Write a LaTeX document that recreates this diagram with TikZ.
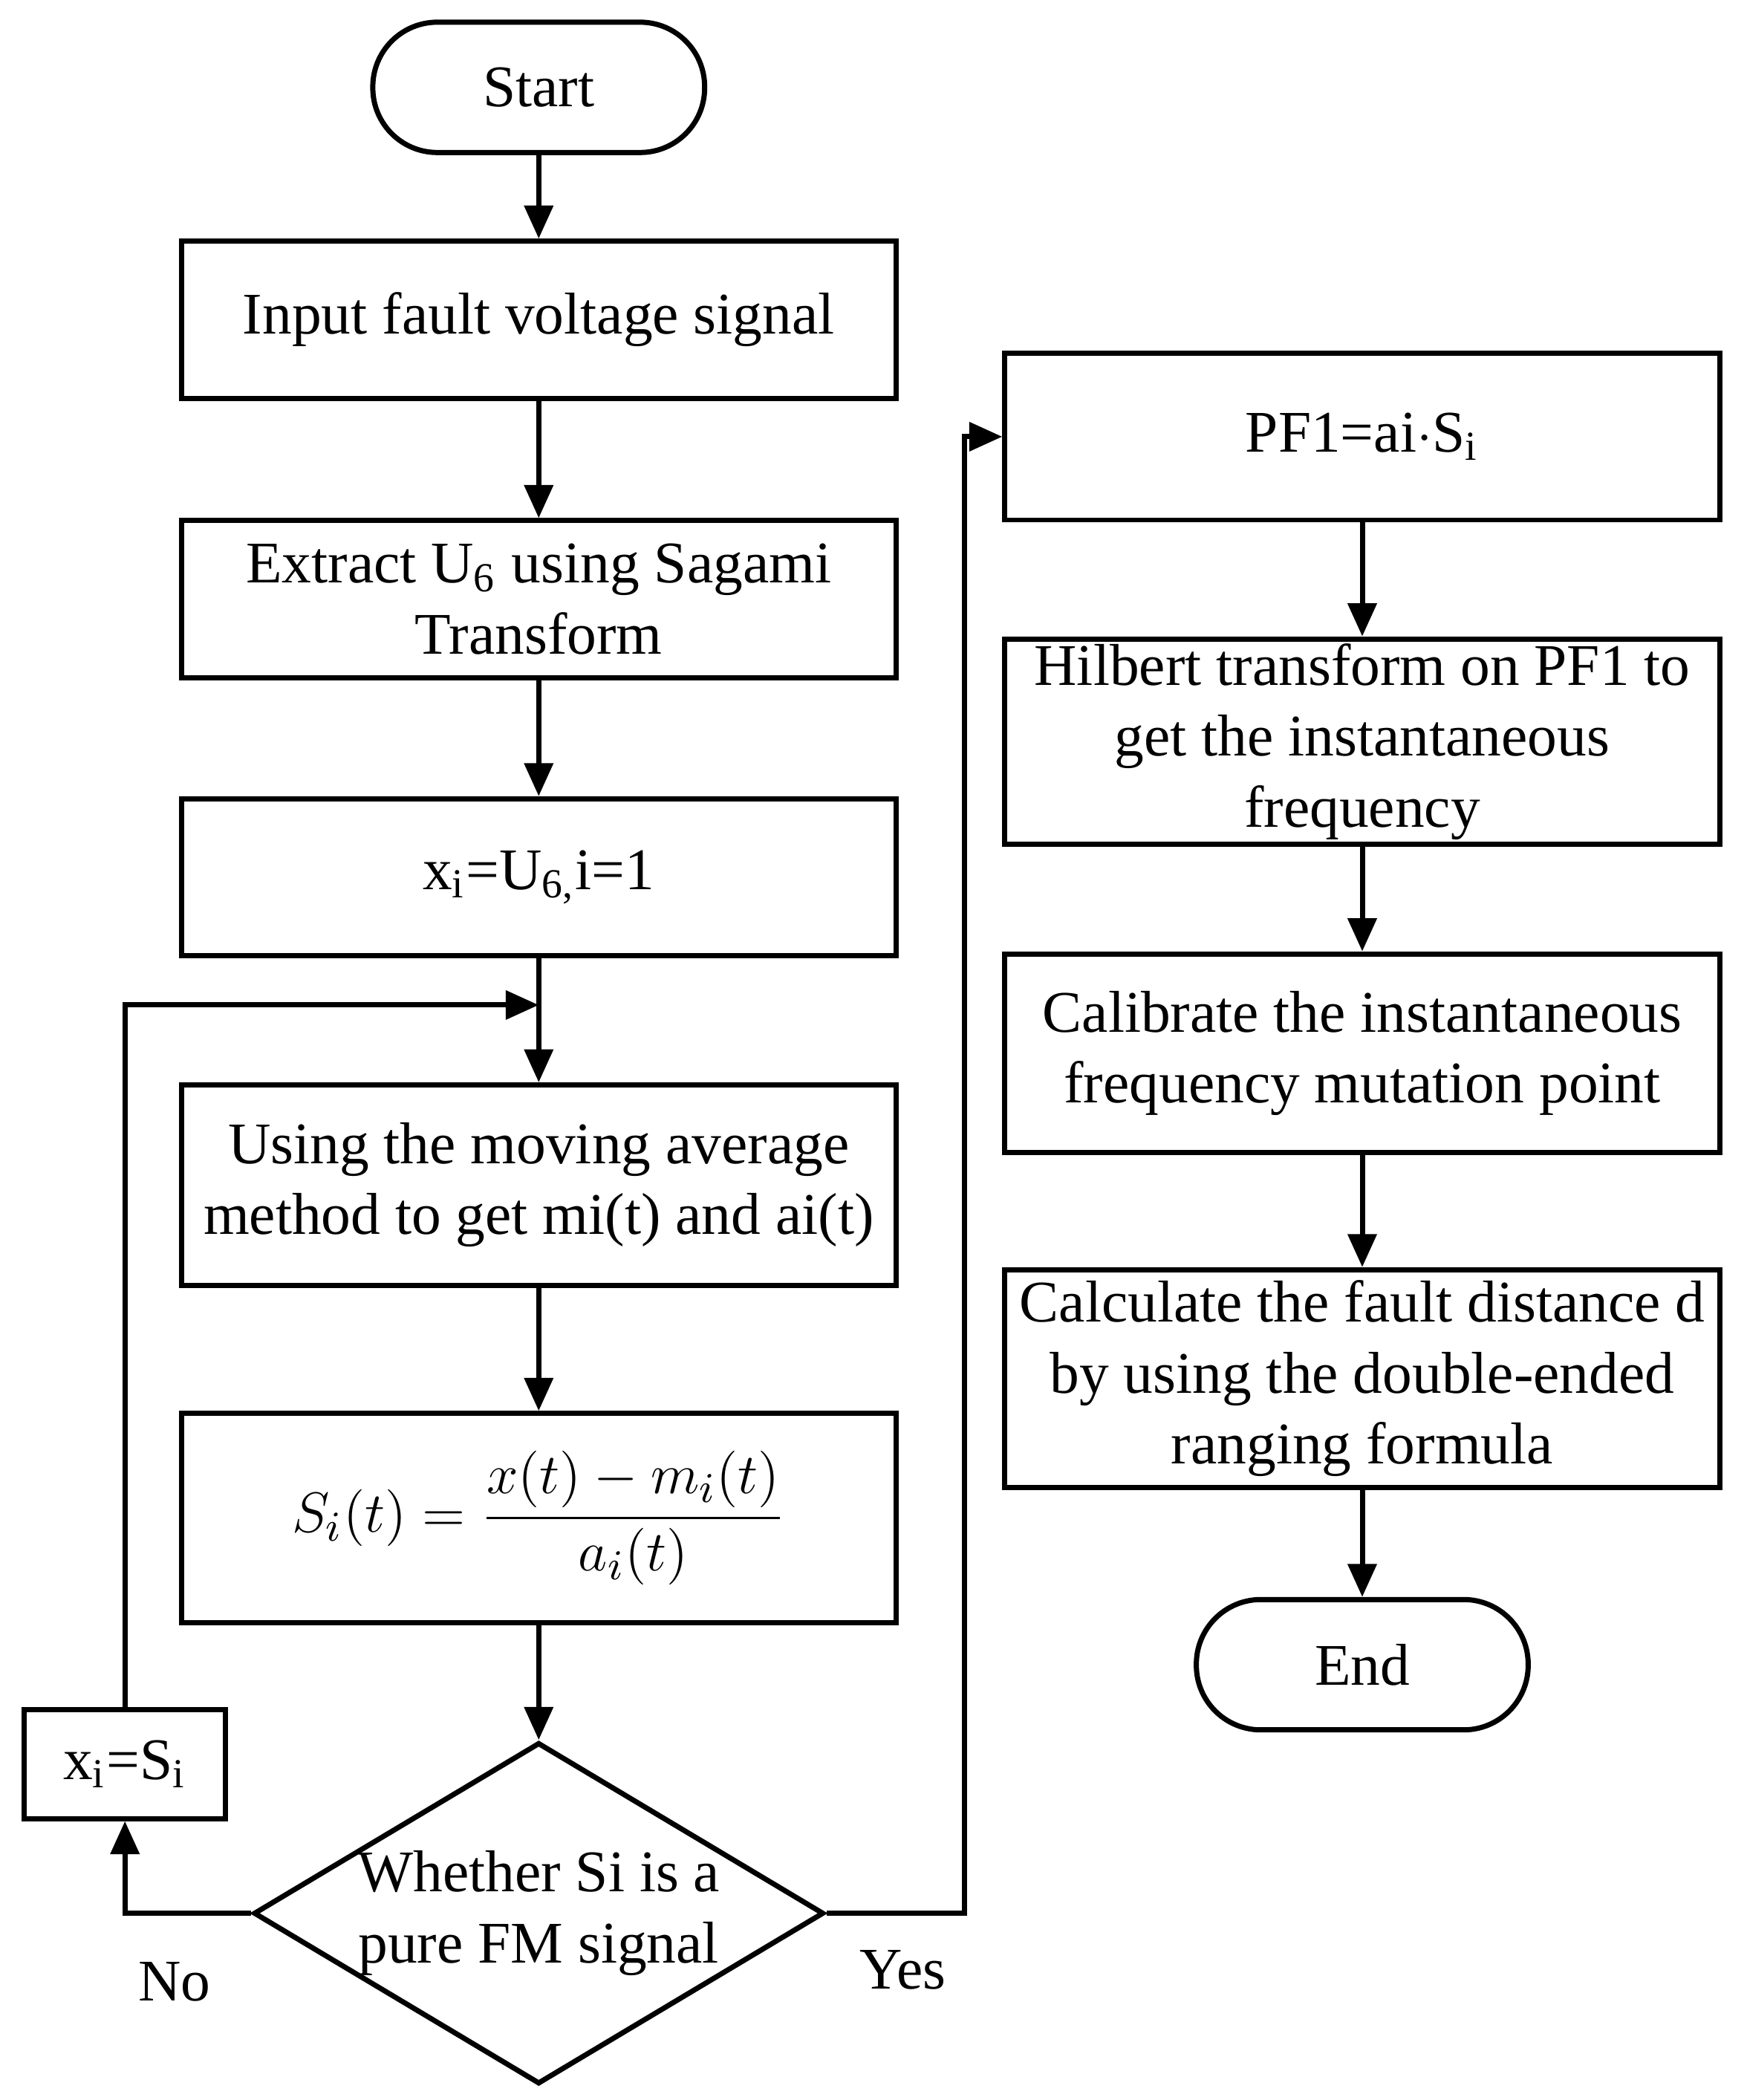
\documentclass[tikz,border=0pt]{standalone}
\usepackage{amsmath}
\usepackage{fontspec}
\setmainfont{Liberation Serif}
\usetikzlibrary{shapes.geometric,arrows.meta}
\begin{document}
\begin{tikzpicture}[>={Triangle[length=7pt,width=6pt]},line width=1.1pt,
  font=\fontsize{12.5}{15}\selectfont,
  box/.style={draw,minimum width=5.32cm,align=center,inner sep=1pt},
  term/.style={draw,rounded corners=0.48cm,minimum width=2.47cm,minimum height=0.97cm}]
\useasboundingbox (0,0) rectangle (13,-15.63);
% left column
\node[term] (start) at (4.01,-0.65) {Start};
\node[box,minimum height=1.17cm] (b1) at (4.01,-2.38) {Input fault voltage signal};
\node[box,minimum height=1.17cm] (b2) at (4.01,-4.46) {Extract U\textsubscript{6} using Sagami\\Transform};
\node[box,minimum height=1.17cm] (b3) at (4.01,-6.53) {x\textsubscript{i}=U\textsubscript{6,}i=1};
\node[box,minimum height=1.49cm] (b4) at (4.01,-8.82) {Using the moving average\\method to get mi(t) and ai(t)};
\node[box,minimum height=1.56cm] (b5) at (4.01,-11.30) {$S_i(t)=\dfrac{x(t)-m_i(t)}{a_i(t)}$};
\node[draw,diamond,aspect=1.67,minimum width=4.23cm,minimum height=2.54cm,inner sep=0pt,align=center] (d) at (4.01,-14.24) {Whether Si is a\\pure FM signal};
\node[draw,minimum width=1.5cm,minimum height=0.81cm] (xs) at (0.93,-13.13) {x\textsubscript{i}=S\textsubscript{i}};
% right column
\node[box,minimum height=1.24cm] (b6) at (10.14,-3.25) {PF1=ai$\cdot$S\textsubscript{i}};
\node[box,minimum height=1.50cm] (b7) at (10.14,-5.52) {Hilbert transform on PF1 to\\get the instantaneous\\frequency};
\node[box,minimum height=1.48cm] (b8) at (10.14,-7.84) {Calibrate the instantaneous\\frequency mutation point};
\node[box,minimum height=1.62cm] (b9) at (10.14,-10.26) {Calculate the fault distance d\\by using the double-ended\\ranging formula};
\node[term] (end) at (10.14,-12.39) {End};
\node (no) at (1.30,-14.75) {No};
\node (yes) at (6.72,-14.66) {Yes};
\coordinate (loop) at (4.01,-7.48);
% connectors
\draw[->] (start) -- (b1);
\draw[->] (b1) -- (b2);
\draw[->] (b2) -- (b3);
\draw[->] (b3) -- (b4);
\draw[->] (b4) -- (b5);
\draw[->] (b5) -- (d);
\draw[->] (d.west) -| (xs.south);
\draw[->] (xs.north) |- (loop);
\draw[->] (d.east) -- (7.18,-14.24) |- (b6.west);
\draw[->] (b6) -- (b7);
\draw[->] (b7) -- (b8);
\draw[->] (b8) -- (b9);
\draw[->] (b9) -- (end);
\end{tikzpicture}
\end{document}
